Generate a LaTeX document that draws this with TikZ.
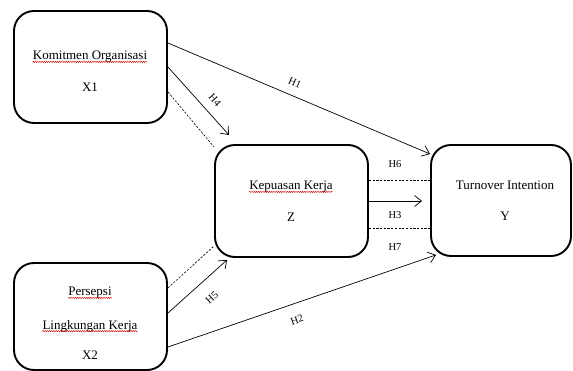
\documentclass[tikz,border=0pt]{standalone}
\usepackage{fontspec}
\setmainfont{Liberation Serif}
\usetikzlibrary{arrows.meta,decorations.pathmorphing}
\begin{document}
\begin{tikzpicture}[x=1pt,y=-1pt,
  box/.style={draw,line width=1.9pt,rounded corners=20pt,inner sep=0pt},
  txt/.style={font=\fontsize{13}{15}\selectfont,inner sep=0pt,anchor=center},
  lab/.style={font=\fontsize{10.5}{12}\selectfont,inner sep=0pt},
  conn/.style={line width=0.7pt,-{Straight Barb[length=7pt,width=11pt,line width=0.7pt]}},
  dconn/.style={line width=0.6pt,dash pattern=on 2.2pt off 1.5pt},
  wavy/.style={draw=red!80!black,line width=0.45pt,decorate,decoration={snake,amplitude=0.6pt,segment length=2.2pt}}]
\useasboundingbox (0,0) rectangle (573,371);
% boxes
\node[box,minimum width=153pt,minimum height=112pt] (X1) at (90.5,67) {};
\node[box,minimum width=153pt,minimum height=112pt] (Z) at (291.5,201) {};
\node[box,minimum width=140pt,minimum height=111pt] (Y) at (501,200.5) {};
\node[box,minimum width=153pt,minimum height=107pt] (X2) at (90.5,316.5) {};
% texts
\node[txt] (t1) at (90,57) {Komitmen Organisasi};
\node[txt] (t2) at (90,87) {X1};
\node[txt] (t3) at (291,187) {Kepuasan Kerja};
\node[txt] (t4) at (291,217) {Z};
\node[txt] (t5) at (505,185) {Turnover Intention};
\node[txt] (t6) at (505,216) {Y};
\node[txt] (t7) at (90,293) {Persepsi};
\node[txt] (t8) at (90,326) {Lingkungan Kerja};
\node[txt] (t9) at (90,355) {X2};
% spell-check underlines
\draw[wavy] ([yshift=-2pt]t1.base west) -- ([yshift=-2pt]t1.base east);
\draw[wavy] ([yshift=-2pt]t3.base west) -- ([yshift=-2pt]t3.base east);
\draw[wavy] ([yshift=-2pt]t7.base west) -- ([yshift=-2pt]t7.base east);
\draw[wavy] ([yshift=-2pt]t8.base west) -- ([yshift=-2pt]t8.base east);
% helper coordinates
\coordinate (h4end) at ([xshift=15pt,yshift=9pt]Z.north west);
\coordinate (h3end) at ([xshift=-8pt]Y.west);
\coordinate (h5end) at ([xshift=13pt,yshift=-2pt]Z.south west);
\coordinate (h2end) at ([xshift=6pt,yshift=2pt]Y.south west);
% connectors
\draw[conn] ([yshift=24pt]X1.east) -- ([yshift=46.5pt]Y.west);
\draw[conn] (X1.east) -- (h4end);
\draw[dconn] ([yshift=-25pt]X1.east) -- ([yshift=-3pt]Z.north west);
\draw[dconn] ([yshift=21pt]Z.east) -- ([yshift=21pt]Z.east -| Y.west);
\draw[conn] (Z.east) -- (Z.east -| h3end);
\draw[dconn] ([yshift=-27pt]Z.east) -- ([yshift=-27pt]Z.east -| Y.west);
\draw[dconn] ([yshift=28.5pt]X2.east) -- ([yshift=12pt]Z.south west);
\draw[conn] ([yshift=3.5pt]X2.east) -- (h5end);
\draw[conn] ([yshift=-30.5pt]X2.east) -- (h2end);
% labels
\node[lab,rotate=-23] (l1) at (295,83) {H1};
\node[lab,rotate=-48] (l4) at (215,100) {H4};
\node[lab] (l6) at (395,164) {H6};
\node[lab] (l3) at (395,215) {H3};
\node[lab] (l7) at (395,247) {H7};
\node[lab,rotate=42] (l5) at (212,298) {H5};
\node[lab,rotate=19] (l2) at (297,320) {H2};
\end{tikzpicture}
\end{document}
